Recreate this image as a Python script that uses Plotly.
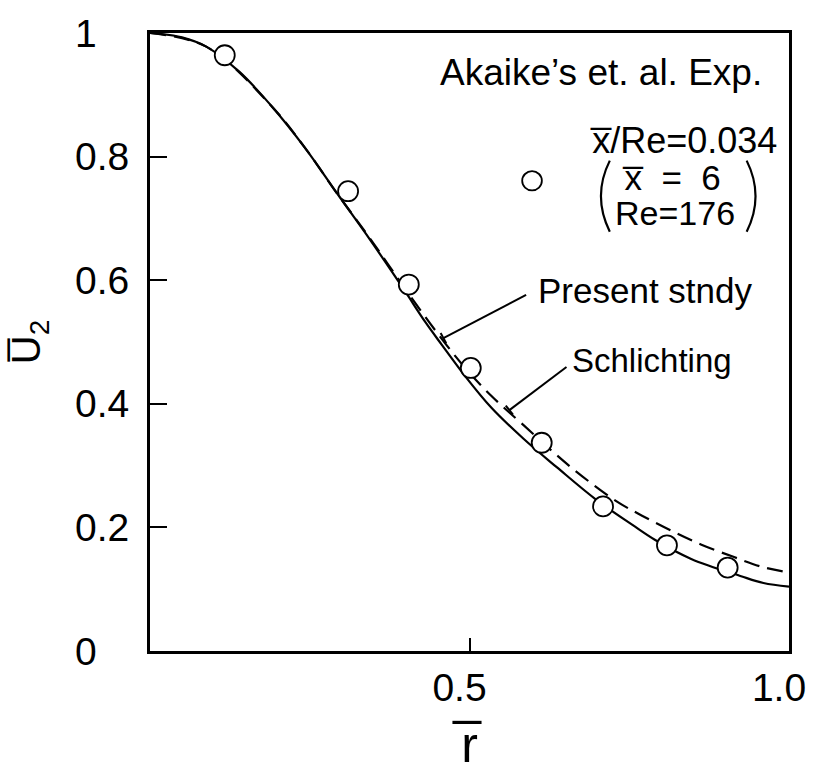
import plotly.graph_objects as go

# ---------------- data ----------------
r_exp = [0.117, 0.310, 0.405, 0.502, 0.613, 0.709, 0.809, 0.904]
u_exp = [0.964, 0.744, 0.593, 0.458, 0.337, 0.234, 0.171, 0.135]

r_present = [0.0, 0.05, 0.088, 0.14, 0.19, 0.242, 0.293, 0.344, 0.396, 0.431,
             0.457, 0.493, 0.534, 0.585, 0.637, 0.698, 0.755, 0.790, 0.847,
             0.925, 0.96, 1.0]
u_present = [1.0, 0.993, 0.978, 0.937, 0.882, 0.815, 0.740, 0.666, 0.587, 0.532,
             0.495, 0.445, 0.394, 0.343, 0.297, 0.245, 0.204, 0.180, 0.149,
             0.121, 0.110, 0.104]

r_schl = [0.0, 0.088, 0.19, 0.242, 0.293, 0.344, 0.40, 0.45, 0.49, 0.534,
          0.585, 0.658, 0.729, 0.770, 0.817, 0.863, 0.914, 0.955, 1.0]
u_schl = [1.0, 0.978, 0.882, 0.815, 0.740, 0.668, 0.585, 0.514, 0.462, 0.413,
          0.365, 0.298, 0.243, 0.219, 0.194, 0.172, 0.152, 0.137, 0.127]

x_tickvals = [0.5, 1.0]
x_ticktext = ["0.5", "1.0"]
y_tickvals = [0, 0.2, 0.4, 0.6, 0.8, 1.0]
y_ticktext = ["0\u00a0\u00a0\u00a0", "0.2", "0.4", "0.6", "0.8", "1\u00a0\u00a0\u00a0"]

# ---------------- layout geometry ----------------
W, H = 818, 776
L, R, T, B = 150, 19, 24, 108
PW, PH = W - L - R, H - T - B


def dx(px):
    return (px - L) / PW


def dy(py):
    return (H - B - py) / PH


FONT = "Liberation Sans, Arial, sans-serif"

fig = go.Figure()

fig.add_trace(go.Scatter(
    x=r_present, y=u_present, mode="lines", line_shape="spline",
    line=dict(color="black", width=2.2), name="Present stndy", showlegend=False))
fig.add_trace(go.Scatter(
    x=r_schl, y=u_schl, mode="lines", line_shape="spline",
    line=dict(color="black", width=2.2, dash="16px,8px"), name="Schlichting",
    showlegend=False))
fig.add_trace(go.Scatter(
    x=r_exp, y=u_exp, mode="markers",
    marker=dict(symbol="circle", size=20, color="white",
                line=dict(color="black", width=1.8)),
    name="Akaike's et. al. Exp.", showlegend=False))

annotations = []


def add_text(text, px, py, size, xanchor="left", height=None):
    a = dict(
        text=text, x=dx(px), y=dy(py), xref="x", yref="y", showarrow=False,
        xanchor=xanchor, yanchor="middle",
        font=dict(family=FONT, size=size, color="black"))
    if height:
        a["height"] = height
    annotations.append(a)


add_text("Akaike\u2019s et. al. Exp.", 442, 65, 37)
add_text("x\u0305/Re=0.034", 595, 136, 36, height=38)
add_text("x\u0305\u00a0\u00a0=\u00a0\u00a06", 627, 174, 35, height=38)
add_text("Re=176", 620, 212, 34, height=38)
add_text("Present stndy", 542, 292, 35)
add_text("Schlichting", 577, 365, 33)

shapes = []
# legend key circle
cx, cy, rad = 538, 178, 10
shapes.append(dict(type="circle", xref="x", yref="y",
                   x0=dx(cx - rad), x1=dx(cx + rad), y0=dy(cy + rad), y1=dy(cy - rad),
                   line=dict(color="black", width=1.8), fillcolor="white"))


def paren(x_end, x_mid, y0, y1):
    ym = (y0 + y1) / 2
    return dict(type="path", xref="x", yref="y",
                path=f"M {dx(x_end)},{dy(y0)} Q {dx(x_mid)},{dy(ym)} {dx(x_end)},{dy(y1)}",
                line=dict(color="black", width=2.2))


shapes.append(paren(617, 599, 157, 231))
shapes.append(paren(756, 774, 157, 231))


def leader(x0, y0, x1, y1, tick=6):
    out = [dict(type="line", xref="x", yref="y", x0=dx(x0), y0=dy(y0), x1=dx(x1), y1=dy(y1),
                line=dict(color="black", width=2))]
    vx, vy = x1 - x0, y1 - y0
    n = (vx ** 2 + vy ** 2) ** 0.5
    px_, py_ = -vy / n * tick, vx / n * tick
    out.append(dict(type="line", xref="x", yref="y",
                    x0=dx(x1 - px_), y0=dy(y1 - py_), x1=dx(x1 + px_), y1=dy(y1 + py_),
                    line=dict(color="black", width=2)))
    return out


shapes += leader(532, 297, 448, 342)
shapes += leader(573, 372, 515, 417)

fig.update_layout(
    width=W, height=H,
    margin=dict(l=L, r=R, t=T, b=B, pad=0),
    paper_bgcolor="white", plot_bgcolor="white",
    annotations=annotations, shapes=shapes,
    showlegend=False,
    xaxis=dict(
        range=[0, 1], showgrid=False, zeroline=False,
        showline=True, mirror=True, linecolor="black", linewidth=3,
        ticks="inside", ticklen=13, tickwidth=2, tickcolor="black",
        tickvals=x_tickvals, ticktext=x_ticktext, ticklabelshift=-10,
        tickfont=dict(family=FONT, size=39, color="black"),
        title=dict(text="r\u0305", font=dict(family=FONT, size=50, color="black"),
                   standoff=20),
    ),
    yaxis=dict(
        range=[0, 1], showgrid=False, zeroline=False,
        showline=True, mirror=True, linecolor="black", linewidth=3,
        ticks="inside", ticklen=17, tickwidth=2, tickcolor="black",
        tickvals=y_tickvals, ticktext=y_ticktext, ticklabelstandoff=10,
        tickfont=dict(family=FONT, size=39, color="black"),
        title=dict(text="U\u0305<sub>2</sub>", font=dict(family=FONT, size=40, color="black"),
                   standoff=22),
    ),
)

fig.write_html("out.html")
